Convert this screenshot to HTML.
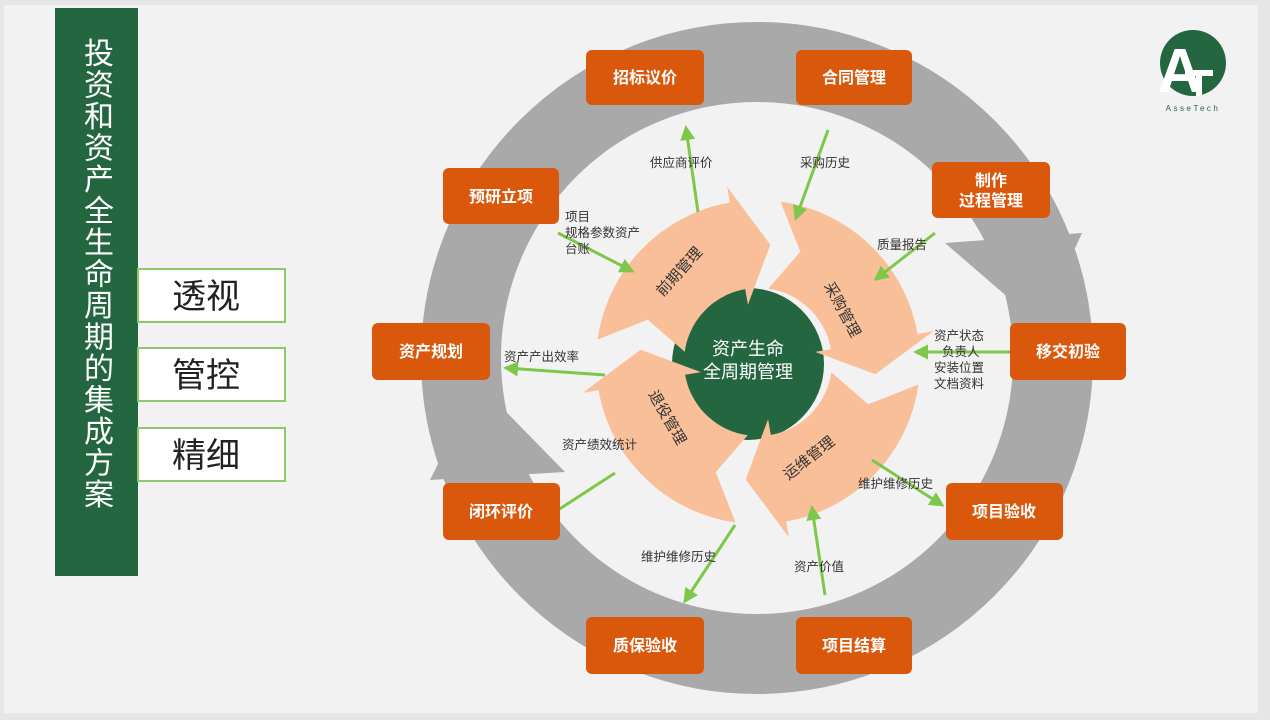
<!DOCTYPE html>
<html><head><meta charset="utf-8"><style>
html,body{margin:0;padding:0;background:#fff}
svg{display:block}
text{font-family:"Liberation Sans","Noto Sans CJK SC",sans-serif}
</style></head><body>
<svg id="s" width="1270" height="720" viewBox="0 0 1270 720" xmlns="http://www.w3.org/2000/svg">
<rect x="0" y="0" width="1270" height="720" fill="#e6e6e6"/>
<rect x="4" y="5" width="1254" height="708" fill="#f2f2f2"/>
<rect x="55" y="8" width="83" height="568" fill="#236640"/>
<text fill="#fff" font-size="30" text-anchor="middle">
<tspan x="99" y="64">投</tspan><tspan x="99" y="95.5">资</tspan><tspan x="99" y="127">和</tspan><tspan x="99" y="158.5">资</tspan><tspan x="99" y="190">产</tspan><tspan x="99" y="221.5">全</tspan><tspan x="99" y="253">生</tspan><tspan x="99" y="284.5">命</tspan><tspan x="99" y="316">周</tspan><tspan x="99" y="347.5">期</tspan><tspan x="99" y="379">的</tspan><tspan x="99" y="410.5">集</tspan><tspan x="99" y="442">成</tspan><tspan x="99" y="473.5">方</tspan><tspan x="99" y="505">案</tspan></text>
<g fill="#fff" stroke="#8dc96a" stroke-width="2">
<rect x="138" y="269" width="147" height="53"/><rect x="138" y="348" width="147" height="53"/><rect x="138" y="428" width="147" height="53"/></g>
<g font-size="34" fill="#222" text-anchor="middle">
<text x="206" y="308">透视</text><text x="206" y="387">管控</text><text x="206" y="467">精细</text></g>
<circle cx="1193" cy="63" r="33" fill="#236640"/>
<text x="1180" y="92" font-size="62" fill="#fff" text-anchor="middle" font-weight="bold">A</text>
<rect x="1185" y="70" width="28" height="6" fill="#fff"/><rect x="1196" y="70" width="6" height="26" fill="#fff"/>
<text x="1193" y="111" font-size="8" fill="#236640" text-anchor="middle" letter-spacing="2.5">AsseTech</text>
<circle cx="757" cy="358" r="296" fill="none" stroke="#a9a9a9" stroke-width="80"/>
<polygon points="945,243 1082,233 1040,325" fill="#a9a9a9"/>
<polygon points="478,383 430,480 565,472" fill="#a9a9a9"/>
<circle cx="748" cy="364" r="76" fill="#236640"/>
<g id="peach" fill="#f9bf98"></g>
<text fill="#fff" font-size="18" text-anchor="middle"><tspan x="748" y="355">资产生命</tspan><tspan x="748" y="378">全周期管理</tspan></text>
<g font-size="15" fill="#333" text-anchor="middle">
<text transform="translate(683,275) rotate(-48)">前期管理</text>
<text transform="translate(838,312) rotate(62)">采购管理</text>
<text transform="translate(812,462) rotate(-38)">运维管理</text>
<text transform="translate(663,420) rotate(60)">退役管理</text>
</g>
<defs><marker id="m" viewBox="0 0 10 10" refX="8" refY="5" markerWidth="5" markerHeight="5" orient="auto"><path d="M0,0L10,5L0,10z" fill="#7dc74a"/></marker></defs>
<g stroke="#7dc74a" stroke-width="3" fill="none" marker-end="url(#m)">
<line x1="698" y1="212" x2="686" y2="128"/>
<line x1="828" y1="130" x2="796" y2="218"/>
<line x1="935" y1="233" x2="876" y2="279"/>
<line x1="558" y1="233" x2="632" y2="271"/>
<line x1="1012" y1="352" x2="916" y2="352"/>
<line x1="605" y1="375" x2="506" y2="368"/>
<line x1="872" y1="460" x2="942" y2="505"/>
<line x1="735" y1="525" x2="685" y2="601"/>
<line x1="825" y1="595" x2="812" y2="508"/>
<line x1="615" y1="473" x2="558" y2="510" marker-end="none"/>
</g>
<g font-size="12.5" fill="#333">
<text x="650" y="167">供应商评价</text>
<text x="800" y="167">采购历史</text>
<text x="877" y="249">质量报告</text>
<text x="565" y="221">项目</text><text x="565" y="237">规格参数资产</text><text x="565" y="253">台账</text>
<text x="934" y="340">资产状态</text><text x="942" y="356">负责人</text><text x="934" y="372">安装位置</text><text x="934" y="388">文档资料</text>
<text x="504" y="361">资产产出效率</text>
<text x="562" y="449">资产绩效统计</text>
<text x="858" y="488">维护维修历史</text>
<text x="641" y="561">维护维修历史</text>
<text x="794" y="571">资产价值</text>
</g>
<g fill="#d9580c">
<rect x="586" y="50" width="118" height="55" rx="6"/><rect x="796" y="50" width="116" height="55" rx="6"/>
<rect x="932" y="162" width="118" height="56" rx="6"/><rect x="443" y="168" width="116" height="56" rx="6"/>
<rect x="1010" y="323" width="116" height="57" rx="6"/><rect x="372" y="323" width="118" height="57" rx="6"/>
<rect x="946" y="483" width="117" height="57" rx="6"/><rect x="443" y="483" width="117" height="57" rx="6"/>
<rect x="586" y="617" width="118" height="57" rx="6"/><rect x="796" y="617" width="116" height="57" rx="6"/>
</g>
<g font-size="16" fill="#fff" text-anchor="middle" font-weight="bold">
<text x="645" y="83">招标议价</text><text x="854" y="83">合同管理</text>
<text x="991" y="186">制作</text><text x="991" y="206">过程管理</text>
<text x="501" y="202">预研立项</text><text x="1068" y="357">移交初验</text>
<text x="431" y="357">资产规划</text><text x="1004" y="517">项目验收</text>
<text x="501" y="517">闭环评价</text><text x="645" y="651">质保验收</text>
<text x="854" y="651">项目结算</text>
</g>
</svg>
<script>
(function(){
var cx=758,cy=362,R=162,r=74,m=(R+r)/2,g=document.getElementById('peach');
function p(rad,a){a=a*Math.PI/180;return (cx+rad*Math.cos(a)).toFixed(1)+','+(cy+rad*Math.sin(a)).toFixed(1);}
for(var i=0;i<4;i++){
 var s=188+i*90,e=s+72,pts=[];
 for(var a=s;a<=e;a+=3)pts.push(p(R,a));
 pts.push(p(R+16,e));pts.push(p(m,e+16));pts.push(p(r-16,e));
 for(var a=e;a>=s;a-=3)pts.push(p(r,a));
 pts.push(p(m,s+13));
 var pl=document.createElementNS('http://www.w3.org/2000/svg','polygon');
 pl.setAttribute('points',pts.join(' '));g.insertBefore(pl,null);
}})();
</script>
</body></html>
